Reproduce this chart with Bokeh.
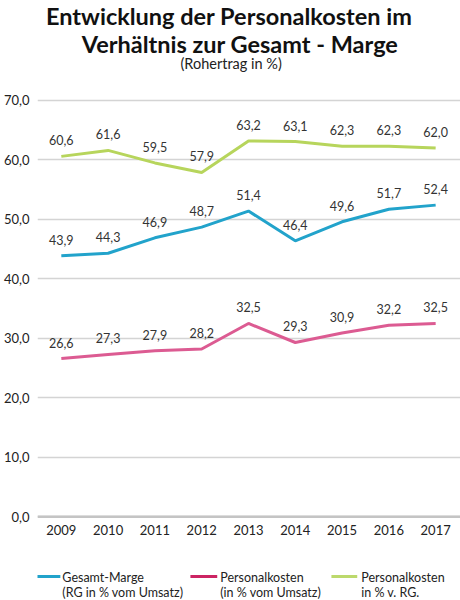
from bokeh.plotting import figure
from bokeh.layouts import column
from bokeh.models import Range1d, FixedTicker, Span
from bokeh.core.properties import value
from bokeh.embed import file_html
from bokeh.resources import INLINE

# ---- data ----
years = [2009, 2010, 2011, 2012, 2013, 2014, 2015, 2016, 2017]
gesamt_marge = [43.9, 44.3, 46.9, 48.7, 51.4, 46.4, 49.6, 51.7, 52.4]
personalkosten = [26.6, 27.3, 27.9, 28.2, 32.5, 29.3, 30.9, 32.2, 32.5]
personalkosten_rg = [60.6, 61.6, 59.5, 57.9, 63.2, 63.1, 62.3, 62.3, 62.0]
y_ticks = [0, 10, 20, 30, 40, 50, 60, 70]
y_tick_labels = ["0,0", "10,0", "20,0", "30,0", "40,0", "50,0", "60,0", "70,0"]

title_line1 = "Entwicklung der Personalkosten im"
title_line2 = "Verhältnis zur Gesamt - Marge"
subtitle = "(Rohertrag in %)"
legend_line1 = ["Gesamt-Marge", "Personalkosten", "Personalkosten"]
legend_line2 = ["(RG in % vom Umsatz)", "(in % vom Umsatz)", "in % v. RG."]

BLUE = "#22a3cb"
PINK = "#dc5b92"
GREEN = "#b7d55c"
LEG_COLORS = ["#22a3cb", "#cc2463", "#bcd96c"]
FONT = "Lato"
W = 460
LEFT = 34  # frame left edge shared by all panels


def fmt(v):
    return f"{v:.1f}".replace(".", ",")


def blank(height, y0, y1):
    f = figure(width=W, height=height, x_range=Range1d(LEFT, W), y_range=Range1d(y1, y0),
               output_backend="svg", toolbar_location=None,
               x_axis_type=None, y_axis_type=None,
               min_border=0, min_border_left=LEFT, min_border_right=0,
               min_border_top=0, min_border_bottom=0)
    f.outline_line_color = None
    f.xgrid.visible = False
    f.ygrid.visible = False
    return f


# ---- title panel (page y 0..80) ----
t = blank(80, 0, 80)
t.text(x=[227, 238], y=[15, 43], text=[title_line1, title_line2],
       text_align="center", text_baseline="middle",
       text_font=value(FONT), text_font_style="bold", text_font_size="23.5px",
       text_color="#111111")
t.text(x=[229], y=[63], text=[subtitle], text_align="center", text_baseline="middle",
       text_font=value(FONT), text_font_size="14.5px", text_color="#222222")

# ---- main chart (page y 80..545) ----
p = figure(width=W, height=465,
           x_range=Range1d(2008.491, 2017.531), y_range=Range1d(-0.3, 70.5),
           output_backend="svg", toolbar_location=None,
           min_border_left=LEFT, min_border_right=0,
           min_border_top=17, min_border_bottom=27)
p.outline_line_color = None

p.xaxis.ticker = FixedTicker(ticks=years)
p.xaxis.axis_line_color = None
p.xaxis.major_tick_line_color = None
p.xaxis.major_tick_out = 0
p.xaxis.major_tick_in = 0
p.xaxis.minor_tick_line_color = None
p.xaxis.major_label_standoff = 6
p.xaxis.major_label_text_font = FONT
p.xaxis.major_label_text_font_size = "13px"
p.xaxis.major_label_text_color = "#222222"

p.yaxis.ticker = FixedTicker(ticks=y_ticks)
p.yaxis.major_label_overrides = {tk: lb for tk, lb in zip(y_ticks, y_tick_labels)}
p.yaxis.axis_line_color = None
p.yaxis.major_tick_line_color = None
p.yaxis.major_tick_out = 0
p.yaxis.major_tick_in = 0
p.yaxis.minor_tick_line_color = None
p.yaxis.major_label_standoff = 8
p.yaxis.major_label_text_font = FONT
p.yaxis.major_label_text_font_size = "13px"
p.yaxis.major_label_text_color = "#222222"

p.xgrid.visible = False
p.ygrid.ticker = FixedTicker(ticks=y_ticks)
p.ygrid.grid_line_color = "#d4d4d4"
p.ygrid.grid_line_width = 1.5
p.add_layout(Span(location=0, dimension="width", line_color="#c4c4c4", line_width=2.5))

for vals, col in [(gesamt_marge, BLUE), (personalkosten, PINK), (personalkosten_rg, GREEN)]:
    p.line(years, vals, line_color=col, line_width=3)
    p.text(x=years, y=vals, text=[fmt(v) for v in vals],
           text_align="center", text_baseline="middle", y_offset=-16,
           text_font=value(FONT), text_font_size="12.5px", text_color="#333333")

# ---- legend panel (page y 545..600) ----
lg = blank(55, 545, 600)
sw_x0 = [29, 188, 330]
sw_x1 = [57, 215, 356]
tx_x = [59, 218, 360]
lg.segment(x0=sw_x0, y0=[576] * 3, x1=sw_x1, y1=[576] * 3, line_color=LEG_COLORS, line_width=3)
lg.text(x=tx_x, y=[577] * 3, text=legend_line1, text_baseline="middle",
        text_font=value(FONT), text_font_size="12.5px", text_color="#222222")
lg.text(x=tx_x, y=[592] * 3, text=legend_line2, text_baseline="middle",
        text_font=value(FONT), text_font_size="12.5px", text_color="#222222")

layout = column(t, p, lg, spacing=0)
open("out.html", "w").write(file_html(layout, INLINE))
